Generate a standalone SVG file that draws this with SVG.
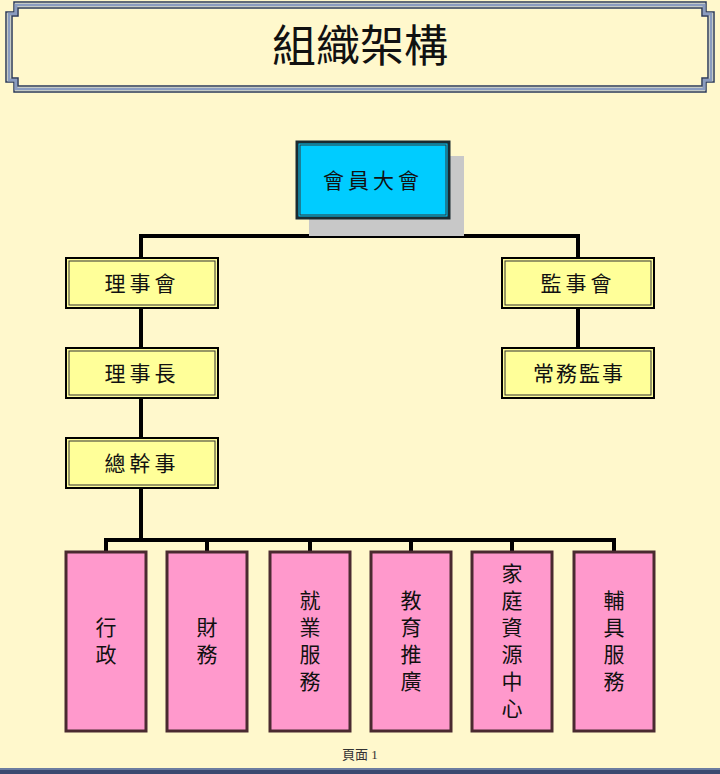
<svg xmlns="http://www.w3.org/2000/svg" width="720" height="774" viewBox="0 0 720 774">
<style>
text{font-family:"Noto Sans CJK TC","Noto Sans CJK SC",serif;fill:#111;text-anchor:middle}
.y{fill:#FFFF99;stroke:#000;stroke-width:2}
.yi{fill:none;stroke:#333;stroke-width:1}
.p{fill:#FF99CC;stroke:#4a2a30;stroke-width:3}
.n{font-size:21px}
.v{font-size:21px;writing-mode:vertical-rl;letter-spacing:6px}
.c{stroke:#000;stroke-width:4;fill:none}
.f{fill:none;stroke:#2b3a5c;stroke-width:1.5}
</style>
<rect width="720" height="774" fill="#FFF8CC"/>
<g id="title">
<path class="f" d="M14 2H706V12H714V82H706V92H14V82H6V12H14Z" fill="#FFF8CC"/>
<path d="M16 5H704V14H711V80H704V89H16V80H9V14H16Z" fill="none" stroke="#8a9cc0" stroke-width="3"/>
<path class="f" d="M18 8H702V16H708V78H702V86H18V78H12V16H18Z"/>
<text x="360" y="62" style="font-size:44px">組織架構</text>
</g>
<g id="connectors">
<path class="c" d="M373 218V236M141 236H578M141 234V258M578 234V258M141 308V348M578 308V348M141 398V438M141 488V540M106 540H614M106 538V552M207 538V552M310 538V552M411 538V552M512 538V552M614 538V552"/>
</g>
<g id="n0">
<rect x="309" y="156" width="155" height="80" fill="#c8c8c8"/>
<rect x="297" y="142" width="152" height="76" fill="#00CCFF" stroke="#1a2a30" stroke-width="3"/>
<rect x="300" y="145" width="146" height="70" fill="none" stroke="#333" stroke-width="1"/>
<text class="n" x="373" y="188" letter-spacing="4">會員大會</text>
</g>
<g id="n1"><rect class="y" x="66" y="258" width="152" height="50"/><rect class="yi" x="69" y="261" width="146" height="44"/><text class="n" x="142" y="291" letter-spacing="4">理事會</text></g>
<g id="n2"><rect class="y" x="502" y="258" width="152" height="50"/><rect class="yi" x="505" y="261" width="146" height="44"/><text class="n" x="578" y="291" letter-spacing="4">監事會</text></g>
<g id="n3"><rect class="y" x="66" y="348" width="152" height="50"/><rect class="yi" x="69" y="351" width="146" height="44"/><text class="n" x="142" y="381" letter-spacing="4">理事長</text></g>
<g id="n4"><rect class="y" x="502" y="348" width="152" height="50"/><rect class="yi" x="505" y="351" width="146" height="44"/><text class="n" x="579" y="381" letter-spacing="2">常務監事</text></g>
<g id="n5"><rect class="y" x="66" y="438" width="152" height="50"/><rect class="yi" x="69" y="441" width="146" height="44"/><text class="n" x="142" y="471" letter-spacing="4">總幹事</text></g>
<g id="b1"><rect class="p" x="66" y="552" width="80" height="179"/><text class="v" x="106" y="644">行政</text></g>
<g id="b2"><rect class="p" x="167" y="552" width="80" height="179"/><text class="v" x="207" y="644">財務</text></g>
<g id="b3"><rect class="p" x="270" y="552" width="80" height="179"/><text class="v" x="310" y="644">就業服務</text></g>
<g id="b4"><rect class="p" x="371" y="552" width="80" height="179"/><text class="v" x="411" y="644">教育推廣</text></g>
<g id="b5"><rect class="p" x="472" y="552" width="80" height="179"/><text class="v" x="512" y="644">家庭資源中心</text></g>
<g id="b6"><rect class="p" x="574" y="552" width="80" height="179"/><text class="v" x="614" y="644">輔具服務</text></g>
<text x="360" y="759" style="font-size:13px;font-family:'Liberation Serif','Noto Sans CJK TC',serif;fill:#333">頁面 1</text>
<rect x="0" y="768" width="720" height="6" fill="#3a4a70"/>
<line x1="0" y1="769" x2="720" y2="769" stroke="#9fb0d0" stroke-width="1"/>
</svg>
